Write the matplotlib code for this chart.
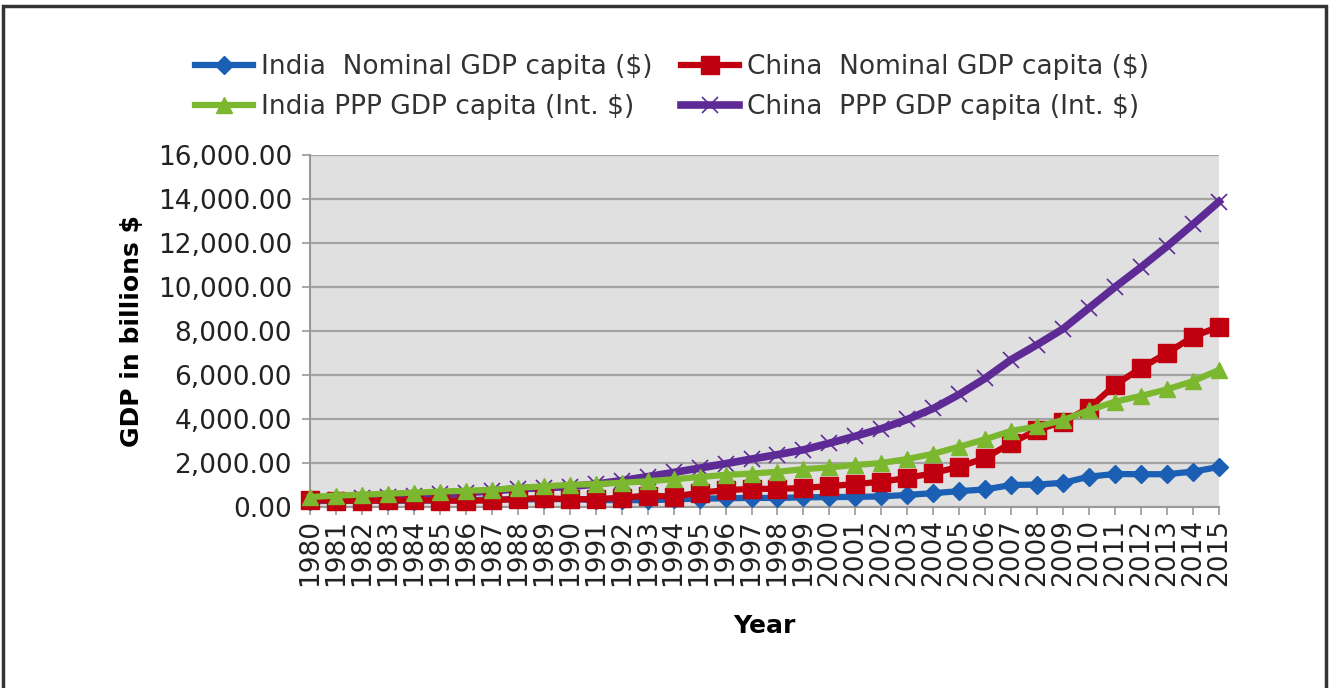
import matplotlib
matplotlib.use("Agg")
import matplotlib.pyplot as plt
from matplotlib.patches import Rectangle
from matplotlib.ticker import FuncFormatter

# Данные (оценка по картинке), 1980-2015
years = list(range(1980, 2016))

india_nominal = [270, 280, 285, 290, 285, 300, 310, 340, 350, 345,
                 370, 305, 320, 300, 350, 380, 395, 415, 410, 440,
                 450, 460, 480, 550, 630, 720, 800, 1000, 1020, 1100,
                 1380, 1500, 1490, 1490, 1610, 1820]

china_nominal = [310, 290, 280, 300, 310, 295, 280, 300, 370, 405,
                 350, 360, 420, 520, 470, 650, 760, 830, 820, 870,
                 950, 1040, 1150, 1320, 1540, 1830, 2230, 2910, 3500, 3880,
                 4500, 5550, 6320, 7000, 7740, 8200]

india_ppp = [450, 520, 560, 610, 650, 700, 740, 780, 870, 940,
             1010, 1040, 1100, 1170, 1260, 1360, 1460, 1520, 1600, 1720,
             1800, 1910, 2000, 2180, 2420, 2740, 3080, 3460, 3660, 3950,
             4400, 4790, 5050, 5350, 5720, 6230]

china_ppp = [300, 340, 390, 440, 520, 600, 650, 730, 830, 880,
             930, 1040, 1200, 1380, 1570, 1770, 1970, 2180, 2380, 2600,
             2900, 3220, 3560, 3980, 4480, 5120, 5850, 6700, 7380, 8100,
             9050, 10000, 10900, 11850, 12850, 13880]

labels = ["India  Nominal GDP capita ($)", "India PPP GDP capita (Int. $)",
          "China  Nominal GDP capita ($)", "China  PPP GDP capita (Int. $)"]

blue = "#1a5fb4"
red = "#c1000f"
green = "#7cb82f"
purple = "#5e2a96"

W, H = 1329, 688
fig = plt.figure(figsize=(W / 100, H / 100), dpi=100)
plt.rcParams["font.family"] = ["DejaVu Sans"]

ax = fig.add_axes([310 / W, 1 - 507 / H, (1219 - 310) / W, (507 - 155) / H])
ax.set_facecolor("#e0e0e0")

l_cp, = ax.plot(years, china_ppp, color=purple, lw=5.5, marker="x", ms=11,
                mew=1.2, zorder=3, clip_on=False)
l_in, = ax.plot(years, india_nominal, color=blue, lw=4.5, marker="D", ms=9,
                zorder=4, clip_on=False)
l_cn, = ax.plot(years, china_nominal, color=red, lw=4.5, marker="s", ms=13,
                zorder=5, clip_on=False)
l_ip, = ax.plot(years, india_ppp, color=green, lw=4.5, marker="^", ms=12,
                zorder=6, clip_on=False)

ax.set_xlim(1980, 2015)
ax.set_ylim(0, 16000)
ax.set_yticks(range(0, 16001, 2000))
ax.yaxis.set_major_formatter(FuncFormatter(lambda v, p: "{:,.2f}".format(v)))
ax.set_xticks(years)
ax.set_xticklabels([str(y) for y in years], rotation=90)

ax.grid(axis="y", color="#a3a3a3", lw=1.6)
ax.set_axisbelow(True)
for s in ["top", "right"]:
    ax.spines[s].set_visible(False)
for s in ["left", "bottom"]:
    ax.spines[s].set_color("#9a9a9a")
    ax.spines[s].set_linewidth(1.5)
ax.tick_params(axis="both", direction="out", length=6, width=1.2,
               color="#9a9a9a", labelsize=19, labelcolor="#222222")
ax.tick_params(axis="y", pad=7)
ax.tick_params(axis="x", pad=3)

ax.set_xlabel("Year", fontsize=18, fontweight="bold", labelpad=20)
ax.set_ylabel("GDP in billions $", fontsize=18, fontweight="bold", labelpad=10)

fig.legend([l_in, l_ip, l_cn, l_cp], labels, ncol=2, frameon=False,
           loc="upper center", bbox_to_anchor=(672 / W, 1 - 30 / H),
           fontsize=19, handlelength=2.2, handletextpad=0.3,
           columnspacing=1.1, labelspacing=0.55, labelcolor="#333333")

# рамка вокруг картинки
fig.add_artist(Rectangle((3 / W, -0.05), (1326 - 3) / W, 1 - 6 / H + 0.05,
                         transform=fig.transFigure, fill=False,
                         lw=2.5, ec="#333333"))

fig.savefig("out.png", dpi=100)
